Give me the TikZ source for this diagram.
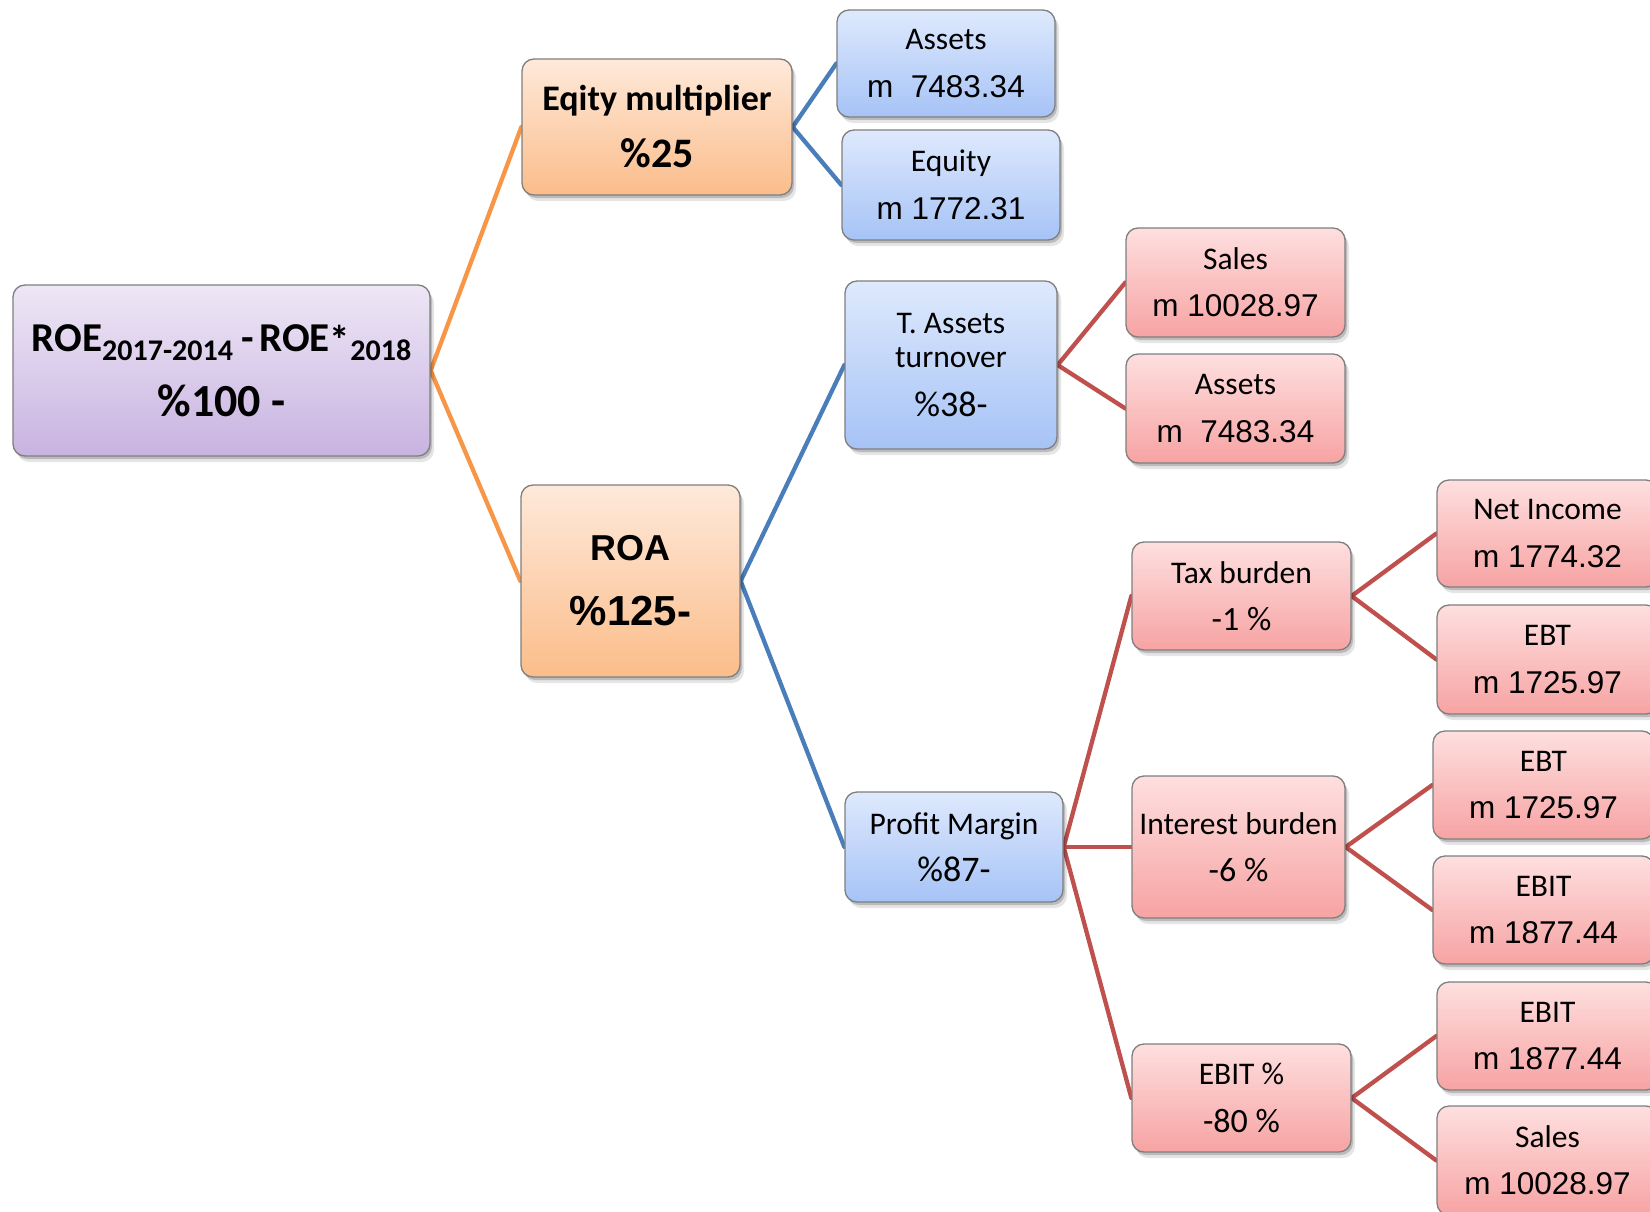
\documentclass[tikz,border=0pt]{standalone}
\usepackage{fontspec}
\setmainfont{Carlito}
\newfontfamily\arialfont{Liberation Sans}
\usetikzlibrary{shadows}

\definecolor{purpTop}{HTML}{EEE7F6}
\definecolor{purpBot}{HTML}{C8B3E0}
\definecolor{orngTop}{HTML}{FEE9DA}
\definecolor{orngBot}{HTML}{FBBD8A}
\definecolor{blueTop}{HTML}{DEE9FD}
\definecolor{blueBot}{HTML}{A6C3F6}
\definecolor{redTop}{HTML}{FEDFDF}
\definecolor{redBot}{HTML}{F7A3A3}
\definecolor{boxLine}{HTML}{7F7F7F}
\definecolor{linkOrange}{HTML}{F79646}
\definecolor{linkBlue}{HTML}{4A7EBB}
\definecolor{linkRed}{HTML}{C0504D}

\pgfdeclarelayer{paper}
\pgfdeclarelayer{links}
\pgfsetlayers{paper,links,main}

% amounts are set in the sans face
\newcommand\amt[1]{{\arialfont #1}}
% percentage lines are set a little larger
\newcommand\pct[2][36]{{\fontsize{#1}{#1}\selectfont #2}}

\begin{document}
\begin{tikzpicture}[x=1pt,y=-1pt,
  box/.style={rectangle, rounded corners=12pt, draw=boxLine, line width=1.3pt,
    inner sep=0pt, align=center,
    drop shadow={shadow xshift=2pt,shadow yshift=-3pt,opacity=.18,fill=black},
    drop shadow={shadow xshift=4pt,shadow yshift=-6pt,opacity=.10,fill=black}},
  sz/.style 2 args={minimum width=#1pt, minimum height=#2pt},
  purplebox/.style={box, top color=purpTop, bottom color=purpBot},
  orangebox/.style={box, top color=orngTop, bottom color=orngBot},
  bluebox/.style={box, top color=blueTop, bottom color=blueBot},
  redbox/.style={box, top color=redTop, bottom color=redBot},
  txt/.style={font=\fontsize{31.5}{47.4}\selectfont},
  link/.style={line width=4.3pt, line cap=round},
  linkO/.style={link, draw=linkOrange},
  linkB/.style={link, draw=linkBlue},
  linkR/.style={link, draw=linkRed}]

\useasboundingbox (0,0) rectangle (1650,1212);
\clip (0,0) rectangle (1650,1212);
\begin{pgfonlayer}{paper}
  \fill[white] (0,0) rectangle (1650,1212);
\end{pgfonlayer}

% root
\node[purplebox, sz={417}{171}, font=\bfseries\fontsize{41}{65}\selectfont] (roe) at (221.5,370.5)
  {ROE\raisebox{-9pt}{\fontsize{30}{30}\selectfont 2017-2014}\hspace{8pt}-\hspace{6pt}ROE\raisebox{-3pt}{*}\raisebox{-9pt}{\fontsize{30}{30}\selectfont 2018}\\
   {\fontsize{46}{46}\selectfont\%100 -}};

% second level
\node[orangebox, sz={270}{136}, font=\bfseries\fontsize{36}{57}\selectfont] (eqm) at (657,127)
  {Eqity multiplier\\{\fontsize{42}{42}\selectfont\%25}};
\node[orangebox, sz={219}{192}, font=\arialfont\bfseries\fontsize{36}{65}\selectfont] (roa) at (630.5,581)
  {ROA\\{\fontsize{42}{42}\selectfont\%125-}};

% third level
\node[bluebox, txt, sz={218}{107}] (assetsA) at (946,63.5) {Assets\\\amt{m\ \ 7483.34}};
\node[bluebox, txt, sz={218}{110}] (equity) at (951,185) {Equity\\\amt{m 1772.31}};
\node[bluebox, txt, sz={212}{168}, font=\fontsize{31.5}{34}\selectfont] (tat) at (951,365)
  {T. Assets\\turnover\\[15pt]\pct{\%38-}};
\node[bluebox, txt, sz={218}{110}] (pm) at (954,847) {Profit Margin\\\pct{\%87-}};

% fourth level
\node[redbox, txt, sz={219}{109}] (salesA) at (1235.5,282.5) {Sales\\\amt{m 10028.97}};
\node[redbox, txt, sz={219}{109}] (assetsB) at (1235.5,408.5) {Assets\\\amt{m\ \ 7483.34}};
\node[redbox, txt, sz={219}{108}] (tax) at (1241.5,596) {Tax burden\\\pct[34]{-1 \%}};
\node[redbox, txt, sz={213}{142}] (interest) at (1238.5,847) {Interest burden\\\pct[34]{-6 \%}};
\node[redbox, txt, sz={219}{108}] (ebitpct) at (1241.5,1098) {EBIT \%\\\pct[34]{-80 \%}};

% fifth level
\node[redbox, txt, sz={221}{107}] (netinc) at (1547.5,533.5) {Net Income\\\amt{m 1774.32}};
\node[redbox, txt, sz={221}{109}] (ebtA) at (1547.5,659.5) {EBT\\\amt{m 1725.97}};
\node[redbox, txt, sz={221}{108}] (ebtB) at (1543.5,785) {EBT\\\amt{m 1725.97}};
\node[redbox, txt, sz={221}{108}] (ebitA) at (1543.5,910) {EBIT\\\amt{m 1877.44}};
\node[redbox, txt, sz={221}{108}] (ebitB) at (1547.5,1036) {EBIT\\\amt{m 1877.44}};
\node[redbox, txt, sz={221}{109}] (salesB) at (1547.5,1160.5) {Sales\\\amt{m 10028.97}};

% connectors
\begin{pgfonlayer}{links}
  \draw[linkO] (roe.east) -- (eqm.west);
  \draw[linkO] (roe.east) -- (roa.west);
  \draw[linkB] (eqm.east) -- (assetsA.west);
  \draw[linkB] (eqm.east) -- (equity.west);
  \draw[linkB] (roa.east) -- (tat.west);
  \draw[linkB] (roa.east) -- (pm.west);
  \draw[linkR] (tat.east) -- (salesA.west);
  \draw[linkR] (tat.east) -- (assetsB.west);
  \draw[linkR] (pm.east) -- (tax.west);
  \draw[linkR] (pm.east) -- (interest.west);
  \draw[linkR] (pm.east) -- (ebitpct.west);
  \draw[linkR] (tax.east) -- (netinc.west);
  \draw[linkR] (tax.east) -- (ebtA.west);
  \draw[linkR] (interest.east) -- (ebtB.west);
  \draw[linkR] (interest.east) -- (ebitA.west);
  \draw[linkR] (ebitpct.east) -- (ebitB.west);
  \draw[linkR] (ebitpct.east) -- (salesB.west);
\end{pgfonlayer}
\end{tikzpicture}
\end{document}
